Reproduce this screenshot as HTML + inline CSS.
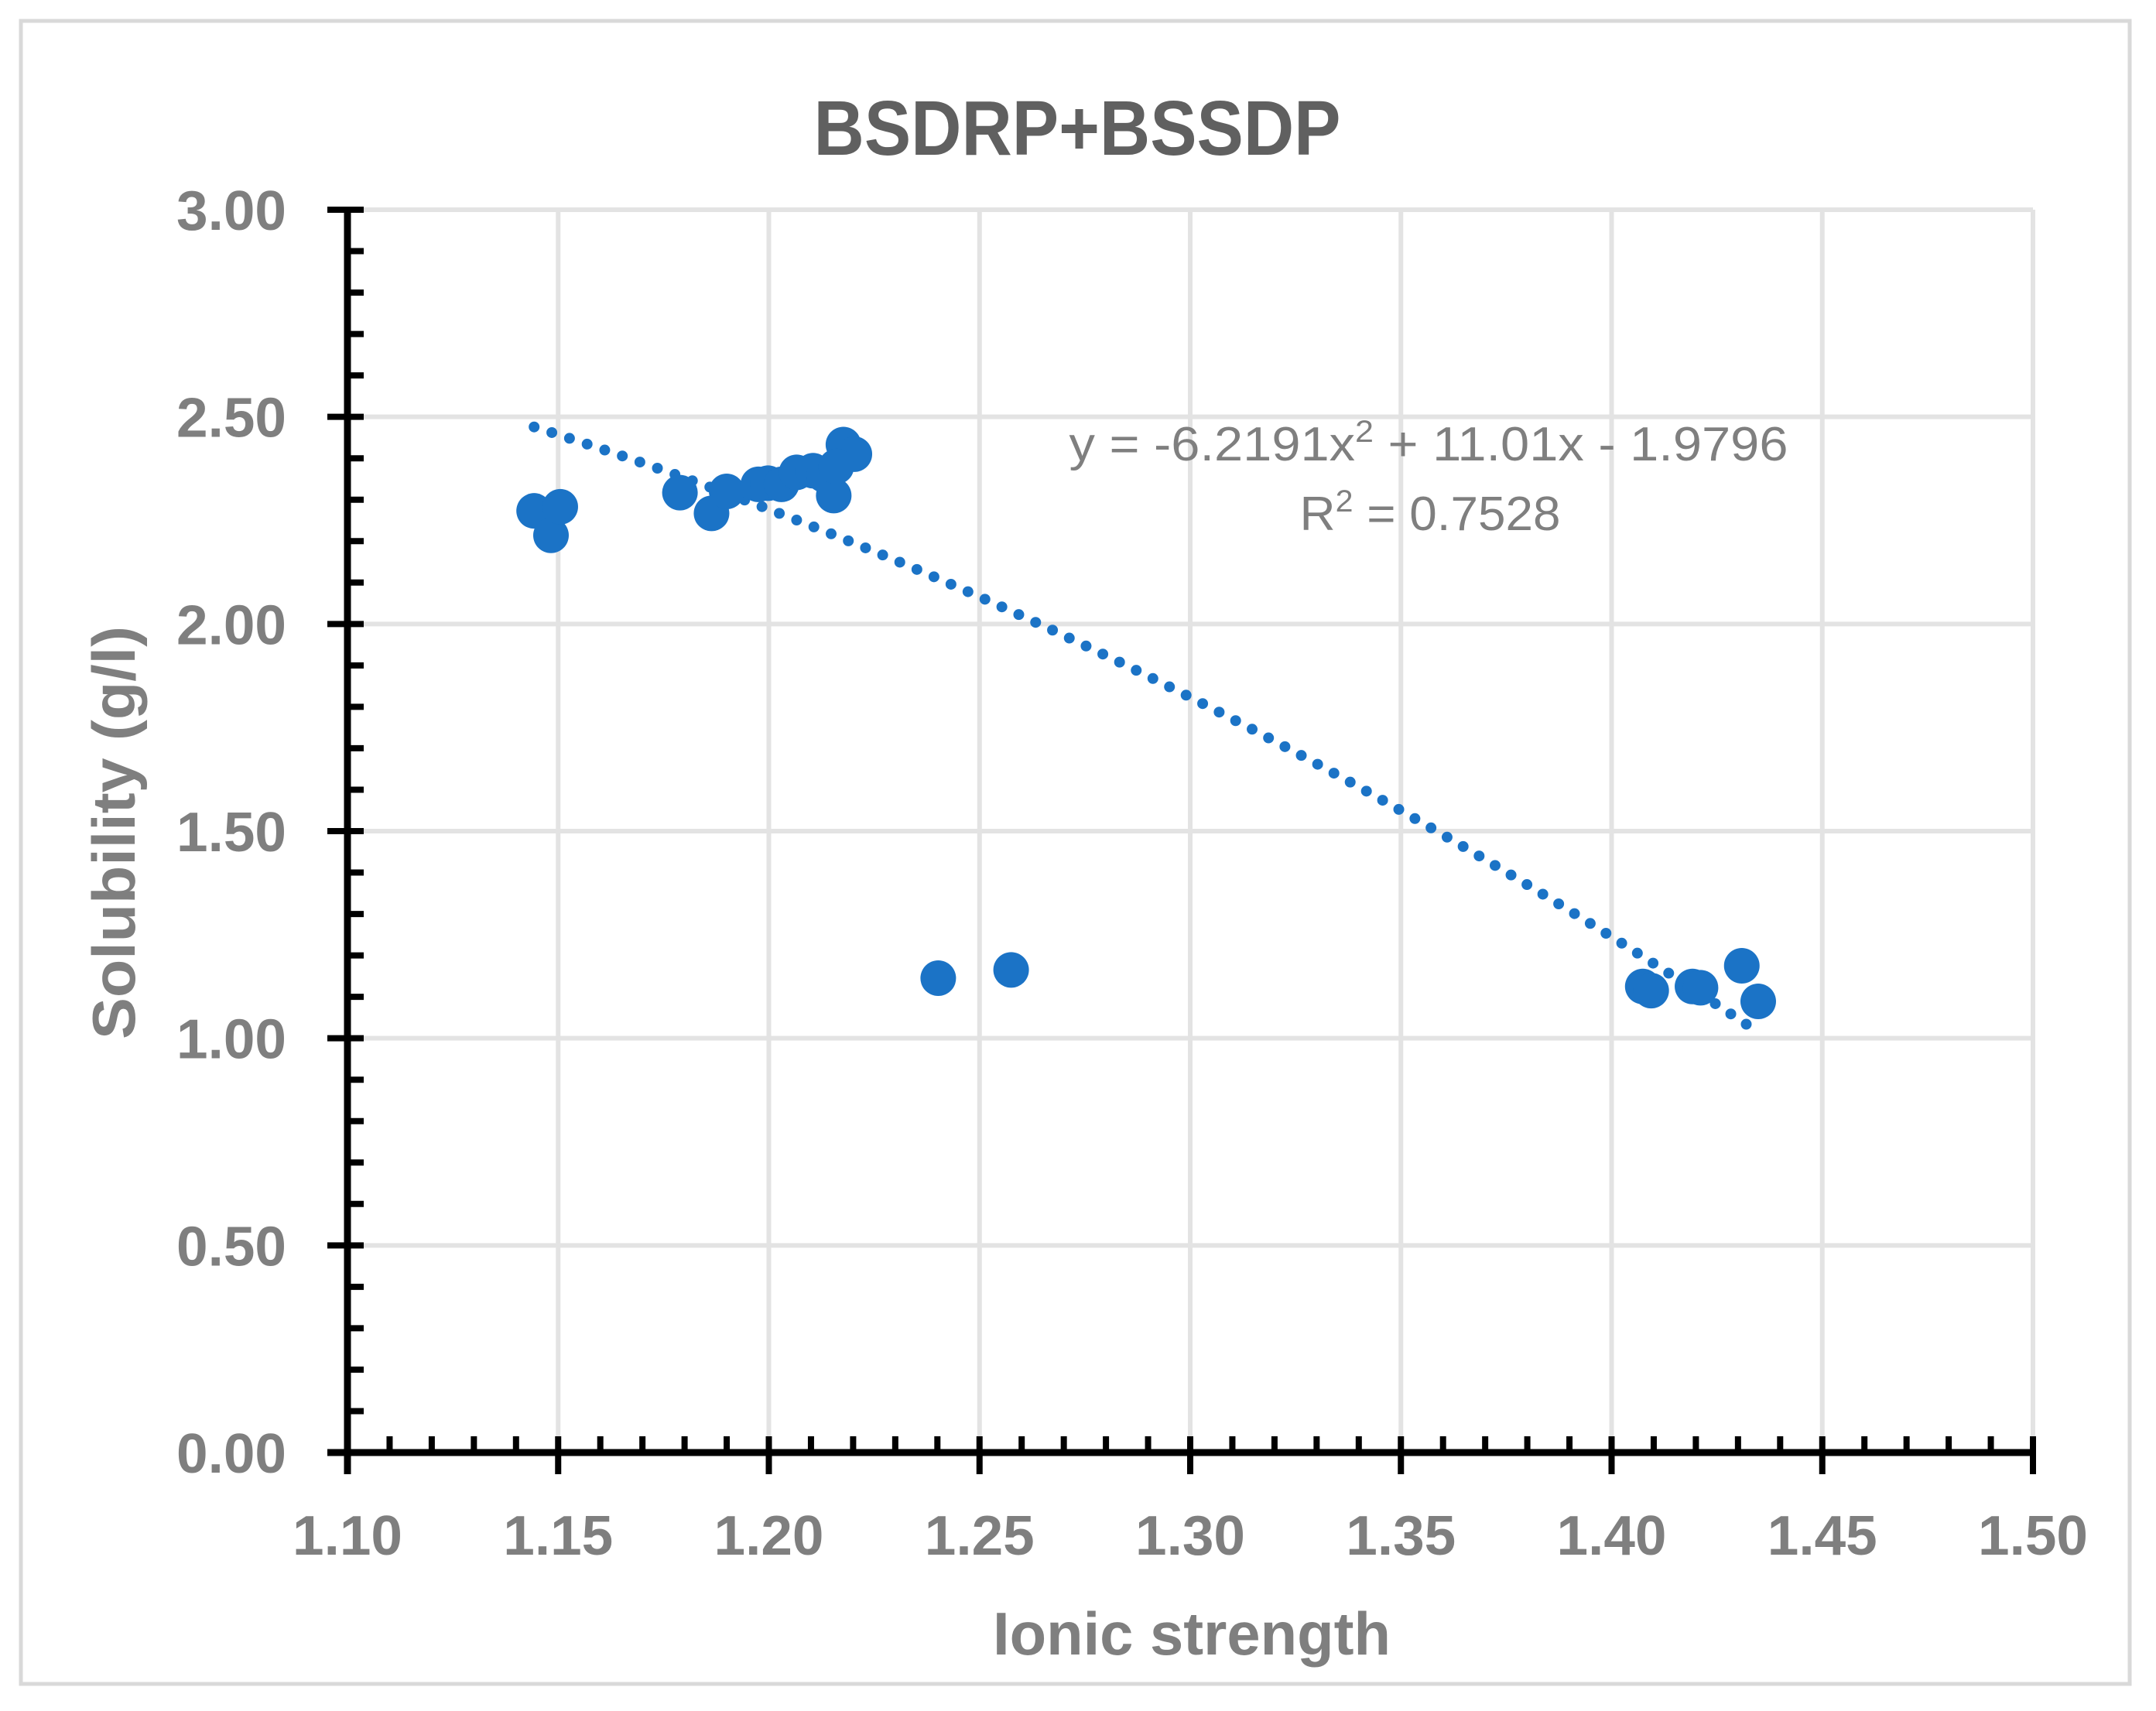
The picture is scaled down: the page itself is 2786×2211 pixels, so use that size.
<!DOCTYPE html>
<html><head><meta charset="utf-8"><style>html,body{margin:0;padding:0;background:#fff}svg{display:block}</style></head>
<body>
<svg id="chart" width="2786" height="2211" viewBox="0 0 2786 2211" xmlns="http://www.w3.org/2000/svg" font-family="'Liberation Sans', sans-serif">
<rect x="0" y="0" width="2786" height="2211" fill="#fff"/>
<rect x="27" y="27" width="2725" height="2149" fill="none" stroke="#d9d9d9" stroke-width="5"/>
<text x="1392" y="200" text-anchor="middle" font-size="100" font-weight="bold" fill="#606060" textLength="681" lengthAdjust="spacingAndGlyphs">BSDRP+BSSDP</text>
<g id="grid"></g>
<g id="trend"></g>
<g id="points"></g>
<g id="axes"></g>
<g id="labels"></g>
<text x="1846" y="595" text-anchor="middle" font-size="62" fill="#7f7f7f" textLength="929" lengthAdjust="spacingAndGlyphs">y = -6.2191x<tspan font-size="40" dy="-24">2</tspan><tspan dy="24"> + 11.01x - 1.9796</tspan></text>
<text x="1848" y="685" text-anchor="middle" font-size="62" fill="#7f7f7f" textLength="337" lengthAdjust="spacingAndGlyphs">R<tspan font-size="40" dy="-24">2</tspan><tspan dy="24"> = 0.7528</tspan></text>
<text transform="translate(174,1076) rotate(-90)" text-anchor="middle" font-size="78" font-weight="bold" fill="#7f7f7f" textLength="534" lengthAdjust="spacingAndGlyphs">Solubility (g/l)</text>
<text x="1540" y="2138" text-anchor="middle" font-size="78" font-weight="bold" fill="#7f7f7f" textLength="514" lengthAdjust="spacingAndGlyphs">Ionic strength</text>
</svg>
<script>
const xTicks = [1.10, 1.15, 1.20, 1.25, 1.30, 1.35, 1.40, 1.45, 1.50];
const xTickLabels = ["1.10","1.15","1.20","1.25","1.30","1.35","1.40","1.45","1.50"];
const yTicks = [0, 0.5, 1.0, 1.5, 2.0, 2.5, 3.0];
const yTickLabels = ["0.00","0.50","1.00","1.50","2.00","2.50","3.00"];
const ionicStrength = [1.1443,1.1483,1.1505,1.1789,1.1864,1.1900,1.1975,1.1998,1.2030,1.2066,1.2105,1.2131,1.2154,1.2177,1.2203,1.2160,1.2402,1.2575,1.4074,1.4094,1.4192,1.4211,1.4309,1.4348];
const solubility = [2.273,2.214,2.283,2.317,2.267,2.320,2.337,2.340,2.337,2.366,2.370,2.360,2.310,2.433,2.410,2.380,1.145,1.165,1.125,1.115,1.125,1.122,1.175,1.089];
const trendCoef = [-6.2191, 11.01, -1.9796];

const NS = "http://www.w3.org/2000/svg";
const X0 = 449, X1 = 2627, Y0 = 1877, Y1 = 271;
const xMin = 1.10, xMax = 1.50, yMin = 0, yMax = 3;
function sx(v){ return X0 + (v - xMin) / (xMax - xMin) * (X1 - X0); }
function sy(v){ return Y0 - (v - yMin) / (yMax - yMin) * (Y0 - Y1); }
function mk(tag, attrs, parent){ const e = document.createElementNS(NS, tag); for (const k in attrs) e.setAttribute(k, attrs[k]); parent.appendChild(e); return e; }

const grid = document.getElementById('grid');
xTicks.forEach((t, i) => {
  if (i === 0) return;
  const l = mk('line', {x1: sx(t), x2: sx(t), y1: Y1, y2: Y0, stroke: '#e3e3e3', 'stroke-width': 6}, grid);
  
  
});
yTicks.forEach((t, i) => {
  if (i === 0) return;
  const l = mk('line', {x1: X0, x2: X1, y1: sy(t), y2: sy(t), stroke: '#e3e3e3', 'stroke-width': 6}, grid);
  
  
});

const trend = document.getElementById('trend');
const tx0 = ionicStrength.reduce((a, b) => Math.min(a, b));
const tx1 = ionicStrength.reduce((a, b) => Math.max(a, b));
let d = '';
for (let k = 0; k <= 200; k++) {
  const x = tx0 + (tx1 - tx0) * k / 200;
  const y = trendCoef[0] * x * x + trendCoef[1] * x + trendCoef[2];
  d += (k ? 'L' : 'M') + sx(x).toFixed(1) + ' ' + sy(y).toFixed(1);
}
const tl = mk('path', {d: d, fill: 'none', stroke: '#1b73c6', 'stroke-width': 14, 'stroke-linecap': 'round', 'stroke-dasharray': '0 24'}, trend);



const pts = document.getElementById('points');
ionicStrength.forEach((x, i) => {
  const c = mk('circle', {cx: sx(x), cy: sy(solubility[i]), r: 23, fill: '#1b73c6'}, pts);
  
  
});

const axes = document.getElementById('axes');
const ya = mk('line', {x1: X0, x2: X0, y1: Y1 - 4, y2: Y0 + 28, stroke: '#000', 'stroke-width': 9}, axes);


const xa = mk('line', {x1: X0 - 26, x2: X1 + 4, y1: Y0, y2: Y0, stroke: '#000', 'stroke-width': 9}, axes);


for (let k = 0; k <= 30; k++) {
  const yy = Y0 - (Y0 - Y1) * k / 30;
  const major = k % 5 === 0;
  const t = mk('line', {x1: major ? X0 - 26 : X0, x2: X0 + 21, y1: yy, y2: yy, stroke: '#000', 'stroke-width': 8}, axes);
  
  
}
for (let k = 0; k <= 40; k++) {
  const xx = X0 + (X1 - X0) * k / 40;
  const major = k % 5 === 0;
  const t = mk('line', {x1: xx, x2: xx, y1: Y0 - 21, y2: major ? Y0 + 28 : Y0, stroke: '#000', 'stroke-width': 8}, axes);
  
  
}

const labels = document.getElementById('labels');
yTicks.forEach((t, i) => {
  const e = mk('text', {x: 370, y: sy(t) + 26, 'text-anchor': 'end', 'font-size': 72, 'font-weight': 'bold', fill: '#7f7f7f', textLength: 142, lengthAdjust: 'spacingAndGlyphs'}, labels);
  e.textContent = yTickLabels[i];
  
  
});
xTicks.forEach((t, i) => {
  const e = mk('text', {x: sx(t), y: 2009, 'text-anchor': 'middle', 'font-size': 72, 'font-weight': 'bold', fill: '#7f7f7f', textLength: 142, lengthAdjust: 'spacingAndGlyphs'}, labels);
  e.textContent = xTickLabels[i];
  
  
});
</script>
</body></html>
